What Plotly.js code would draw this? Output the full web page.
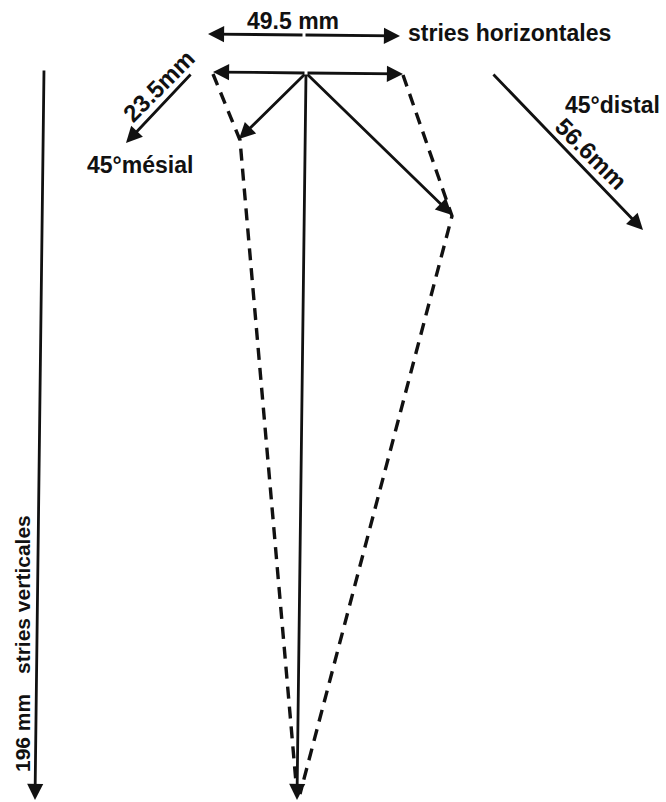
<!DOCTYPE html>
<html>
<head>
<meta charset="utf-8">
<script src="https://cdn.plot.ly/plotly-3.0.1.min.js"></script>
<style>html,body{margin:0;padding:0;background:#fff;}#chart{width:666px;height:802px;}</style>
</head>
<body>
<div id="chart"></div>
<script>
// Vector diagram (drawing units = page pixels, y downward)
const originXY = [306, 73];
const vecNames = ['horizontal mésial', 'horizontal distal', '45° mésial', '45° distal', 'vertical'];
const vecTipX = [213, 403, 239, 452, 297];
const vecTipY = [72, 74, 139, 215, 800];

// dashed resultant outlines
const leftDashX = [213, 240, 297];
const leftDashY = [74, 140, 794];
const rightDashX = [403, 452, 300];
const rightDashY = [75, 216, 794];

// key arrows (tail -> head)
const keyTailX = [304, 192, 492, 44];
const keyTailY = [35, 73, 73, 69];
const keyHeadX = [400, 126, 643, 35];
const keyHeadY = [36, 143, 230, 800];
const keyTopLeftHead = [208, 34];

// labels
const labelText = ['49.5 mm', 'stries horizontales', '23.5mm', '45°mésial', '45°distal', '56.6mm', '196 mm', 'stries verticales'];
const labelX = [293, 509, 158, 140, 612, 591, 22, 22];
const labelY = [21, 33, 86, 165, 105, 153, 733, 595];
const labelAngle = [0, 0, -45, 0, 0, 45, -90, -90];
const labelSize = [23, 23, 24, 23, 23, 24, 21, 21];

const FONT = 'Liberation Sans, Arial, Helvetica, sans-serif';

const traces = [
  {x: leftDashX, y: leftDashY, mode: 'lines', line: {color: '#111', width: 3.4, dash: '12px,8px'}, hoverinfo: 'skip'},
  {x: rightDashX, y: rightDashY, mode: 'lines', line: {color: '#111', width: 3.4, dash: '12px,8px'}, hoverinfo: 'skip'}
];

const annotations = [];
function arrow(tx, ty, hx, hy, opts) {
  annotations.push(Object.assign({
    x: hx, y: hy, ax: tx, ay: ty, xref: 'x', yref: 'y', axref: 'x', ayref: 'y',
    text: '', showarrow: true, arrowhead: 2, arrowsize: 1.15, arrowwidth: 2.8,
    arrowcolor: '#111', standoff: 0, startstandoff: 0
  }, opts || {}));
}
for (let i = 0; i < vecTipX.length; i++) {
  arrow(originXY[0], originXY[1], vecTipX[i], vecTipY[i]);
}
for (let i = 0; i < keyTailX.length; i++) {
  arrow(keyTailX[i], keyTailY[i], keyHeadX[i], keyHeadY[i]);
}
arrow(keyTailX[0], keyTailY[0], keyTopLeftHead[0], keyTopLeftHead[1]);

for (let i = 0; i < labelText.length; i++) {
  annotations.push({
    x: labelX[i], y: labelY[i], xref: 'x', yref: 'y', text: labelText[i],
    showarrow: false, textangle: labelAngle[i], xanchor: 'center', yanchor: 'middle',
    font: {family: FONT, size: labelSize[i], color: '#111', weight: 'bold'}
  });
}

const layout = {
  width: 666, height: 802,
  margin: {l: 0, r: 0, t: 0, b: 0},
  paper_bgcolor: '#fff', plot_bgcolor: '#fff',
  showlegend: false,
  xaxis: {range: [0, 666], visible: false, fixedrange: true},
  yaxis: {range: [802, 0], visible: false, fixedrange: true},
  annotations: annotations,
  font: {family: FONT}
};

Plotly.newPlot('chart', traces, layout, {staticPlot: true, displayModeBar: false});
</script>
</body>
</html>
